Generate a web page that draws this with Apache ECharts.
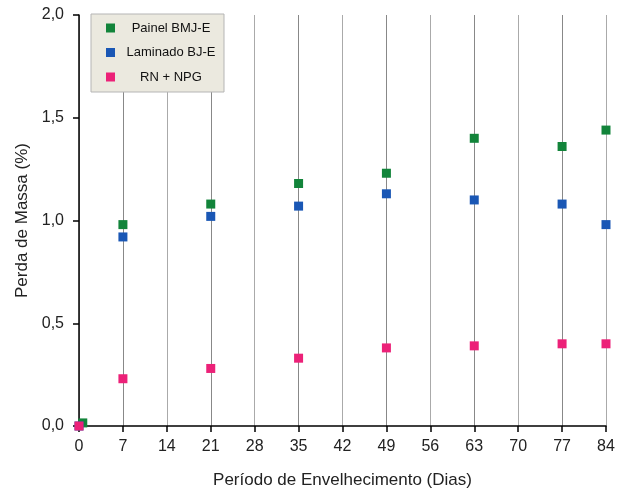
<!DOCTYPE html>
<html>
<head>
<meta charset="utf-8">
<script src="https://cdn.jsdelivr.net/npm/echarts@6/dist/echarts.min.js"></script>
<style>html,body{margin:0;padding:0;background:#fff}#c{width:628px;height:489px}</style>
</head>
<body>
<div id="c"></div>
<script>
const seriesNames = ['Painel BMJ-E', 'Laminado BJ-E', 'RN + NPG'];
const days = [0, 7, 21, 35, 49, 63, 77, 84];
const greenDays = [0.6, 7, 21, 35, 49, 63, 77, 84];
const painel = [0.015, 0.98, 1.08, 1.18, 1.23, 1.40, 1.36, 1.44];
const laminado = [0, 0.92, 1.02, 1.07, 1.13, 1.10, 1.08, 0.98];
const rnNpg = [0, 0.23, 0.28, 0.33, 0.38, 0.39, 0.40, 0.40];
const colors = ['#12843a', '#1a57b5', '#ec2178'];

const zip = (xs, ys) => xs.map((x, i) => [x, ys[i]]);
const chart = echarts.init(document.getElementById('c'));
const font = 'Liberation Sans, Arial, sans-serif';
const mk = (i, data) => ({
  name: seriesNames[i], type: 'scatter', symbol: 'rect', symbolSize: 9, data,
  itemStyle: { color: colors[i], opacity: 1 }, z: 3
});
chart.setOption({
  animation: false,
  textStyle: { fontFamily: font },
  grid: { left: 79, right: 22, top: 15, bottom: 63, containLabel: false, outerBoundsMode: 'none' },
  legend: {
    orient: 'vertical', left: 91, top: 14,
    padding: [7, 8, 8, 15],
    itemGap: 10.5, itemWidth: 9, itemHeight: 9,
    backgroundColor: '#ebe9df', borderColor: '#b5b5b5', borderWidth: 1,
    icon: 'rect',
    formatter: '{a|{name}}',
    textStyle: { fontFamily: font, fontSize: 13, color: '#111', lineHeight: 14,
      rich: { a: { fontFamily: font, fontSize: 13, color: '#111', width: 90, align: 'center', padding: [0, 0, 0, 6] } } },
    data: seriesNames
  },
  xAxis: {
    type: 'value', min: 0, max: 84, interval: 7,
    name: 'Período de Envelhecimento (Dias)', nameLocation: 'middle', nameGap: 46,
    nameTextStyle: { fontFamily: font, fontSize: 17, color: '#222' },
    axisLine: { show: true, onZero: false, lineStyle: { color: '#000', width: 1.5 } },
    axisTick: { show: true, length: 6, lineStyle: { color: '#000', width: 1.5 } },
    axisLabel: { fontFamily: font, fontSize: 16, color: '#222', margin: 13 },
    splitLine: { show: true, lineStyle: { color: ['#aaa', '#888'], width: 1 } }
  },
  yAxis: {
    type: 'value', min: 0, max: 2, interval: 0.5,
    name: 'Perda de Massa (%)', nameLocation: 'middle', nameGap: 48,
    nameTextStyle: { fontFamily: font, fontSize: 17, color: '#222' },
    axisLine: { show: true, onZero: false, lineStyle: { color: '#000', width: 1.5 } },
    axisTick: { show: true, length: 6, lineStyle: { color: '#000', width: 1.5 } },
    axisLabel: { fontFamily: font, fontSize: 16, color: '#222', margin: 15,
      formatter: v => v.toFixed(1).replace('.', ',') },
    splitLine: { show: false }
  },
  series: [
    mk(0, zip(greenDays, painel)),
    mk(1, zip(days, laminado)),
    mk(2, zip(days, rnNpg))
  ]
});
</script>
</body>
</html>
